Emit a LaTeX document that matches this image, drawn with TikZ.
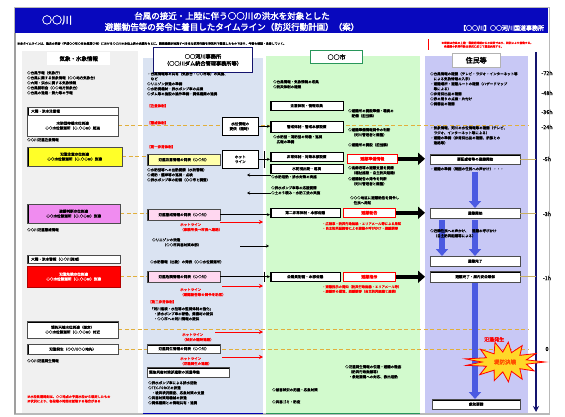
\documentclass[tikz,border=0pt]{standalone}
\usepackage{fontspec}
\newfontfamily\jpf{Noto Sans CJK JP}[FakeBold=1]
\newfontfamily\jpb{Noto Sans CJK JP}[FakeBold=2.5]
\usetikzlibrary{arrows.meta,calc}
\newcommand{\myfs}[2]{\jpf\fontsize{#1pt}{#2pt}\selectfont}
\newcommand{\mybf}[2]{\jpb\fontsize{#1pt}{#2pt}\selectfont}
\definecolor{titleblue}{RGB}{8,8,190}
\definecolor{cAbg}{RGB}{240,240,240}
\definecolor{cBbg}{RGB}{218,227,242}
\definecolor{cCbg}{RGB}{210,250,205}
\definecolor{cDbg}{RGB}{200,200,245}
\definecolor{navyc}{RGB}{20,20,110}
\definecolor{dashc}{RGB}{225,175,60}
\definecolor{arrblue}{RGB}{75,90,225}
\definecolor{magbox}{RGB}{240,140,240}
\definecolor{pinkbox}{RGB}{255,215,240}
\definecolor{ylw}{RGB}{255,255,40}
\definecolor{ltylw}{RGB}{255,255,170}
\definecolor{grn}{RGB}{40,150,90}
\definecolor{tanc}{RGB}{200,175,100}
\definecolor{burstc}{RGB}{255,215,40}
\pgfdeclarelayer{back}\pgfdeclarelayer{mid}\pgfsetlayers{back,mid,main}
\tikzset{
 tx/.style={font=\myfs{3.5}{5}, anchor=north west, align=left, inner sep=0pt},
 tr/.style={tx, text=red},
 bx/.style={font=\myfs{3.6}{4.8}, anchor=north west, align=center, fill=white, draw=black!70, line width=0.35pt, inner xsep=2pt, inner ysep=0.5pt},
 lbar/.style={path picture={\fill[black] (path picture bounding box.north west) rectangle ([xshift=1.8pt]path picture bounding box.south west);}},
 tbar/.style={path picture={\fill[black] (path picture bounding box.north west) rectangle ([yshift=-1.4pt]path picture bounding box.north east);}},
 blk/.style={draw=black, line width=0.5pt, -{Stealth[length=3pt,width=3pt]}},
 redarr/.style={draw=red, line width=0.8pt, -{Stealth[length=4pt,width=4pt]}},
 fat/.style={draw=black, line width=4.5pt, -{Triangle[length=7pt,width=12pt]}},
 bluearr/.style={draw=arrblue, line width=6pt, -{Triangle[length=7pt,width=12pt]}},
 dsh/.style={draw=dashc, line width=0.8pt, dash pattern=on 4pt off 2.5pt},
 tl/.style={font=\myfs{5.5}{6}, inner sep=0pt},
 redbx/.style={bx, draw=red, line width=0.6pt, text=red, font=\mybf{4}{5}},
}
\begin{document}
\begin{tikzpicture}[x=1pt,y=-1pt]
\useasboundingbox (0,0) rectangle (565,417);
\begin{pgfonlayer}{back}
\fill[white] (0,0) rectangle (565,417);
\draw[gray!55, line width=1.2pt] (14.5,7.5) rectangle (549.5,414);
\draw[gray!75, line width=1.8pt] (15,33) -- (15,414);
\fill[cAbg] (22,51) rectangle (138,413);
\fill[cBbg] (143,58) rectangle (263,413);
\fill[cCbg] (266,56) rectangle (420,413);
\fill[cDbg] (425,56) rectangle (528,413);
\draw[blue!70!black, line width=1pt] (143,413) -- (263,413);
\draw[grn, line width=1pt] (266,413) -- (420,413);
\end{pgfonlayer}

% title
\node[fill=titleblue, minimum width=533pt, minimum height=25pt, anchor=north west, inner sep=0pt] (titlebar) at (15,8) {};
\node[text=white, font=\mybf{10}{11}] (river) at (57,20) {○○川};
\node[text=white, font=\mybf{8.5}{11}, align=center] (title) at (232,21.5) {台風の接近・上陸に伴う○○川の洪水を対象とした\\避難勧告等の発令に着目したタイムライン（防災行動計画）（案）};
\node[text=white, font=\mybf{6}{7}] (office) at (502,28) {【○○川】○○河川国道事務所};
\node[tx, font=\myfs{2.9}{3.5}] (note) at (17,42) {※本タイムラインは、過去の災害（平成○○年○月台風第○号）における○○川の水位上昇の実績をもとに、関係機関が実施すべき主な防災行動を時系列で整理したものであり、今後も検証・改善していく。};
\node[tx, fill=white, text=red, font=\myfs{2.7}{3.6}, minimum width=118pt, minimum height=11pt, inner xsep=3pt, path picture={\fill[red] (path picture bounding box.north west) rectangle ([xshift=1pt]path picture bounding box.south west);}] (rnote) at (428,39) {※時間は台風の上陸・最接近時刻からの目安であり、状況により前後する。\\　各機関の防災行動は状況に応じて適宜実施する。};

% headers
\node[fill=white, minimum width=63pt, minimum height=13pt, anchor=north west, inner sep=0pt, font=\mybf{5.5}{6}] (hA) at (47,52) {気象・水象情報};
\node[fill=white, draw=navyc, line width=1pt, minimum width=99pt, minimum height=25pt, anchor=north west, inner sep=0pt, align=center, font=\mybf{5.2}{7}] (hB) at (153,47) {○○河川事務所\\（○○川ダム統合管理事務所等）};
\node[fill=white, draw=grn, line width=1.2pt, minimum width=52pt, minimum height=13pt, anchor=north west, inner sep=0pt, font=\mybf{6}{7}] (hC) at (310,50) {○○市};
\node[fill=white, draw=gray!60, line width=0.5pt, minimum width=48pt, minimum height=14pt, anchor=north west, inner sep=0pt, font=\mybf{7}{8}] (hD) at (452,53) {住民等};

% column 1
\node[tx] (a1) at (27,71) {○台風予報（気象庁）\\○台風に関する気象情報（○○地方気象台）\\○大雨・洪水に関する気象情報\\○台風説明会（○○地方気象台）\\○台風の進路・勢力等の予報};
\node[bx, lbar, text width=87pt, minimum height=8pt, align=left] (a2) at (27,107) {\hspace{2pt}大雨・洪水注意報};
\node[bx, text width=87pt, minimum height=21pt] (a3) at (27,115) {水防団待機水位到達\\○○水位観測所（○.○○m）超過};
\node[tx] (a4) at (27,138) {○○川氾濫注意情報};
\node[bx, lbar, fill=ylw, text width=91pt, minimum height=19pt] (a5) at (27,147) {氾濫注意水位到達\\○○水位観測所（○.○○m）到達};
\node[bx, lbar, fill=magbox, text width=89pt, minimum height=19pt] (a6) at (27,204) {避難判断水位到達\\○○水位観測所（○.○○m）到達};
\node[tx] (a7) at (27,228) {○○川氾濫警戒情報};
\node[bx, lbar, text width=89pt, minimum height=8pt, align=left] (a8) at (27,255) {\hspace{2pt}大雨・洪水警報（○○川流域）};
\node[bx, fill=red, text=white, draw=red!70!black, text width=89pt, minimum height=21pt] (a9) at (27,266) {氾濫危険水位到達\\○○水位観測所（○.○○m）到達};
\node[bx, tbar, text width=87pt, minimum height=17pt] (a10) at (27,321) {堤防天端水位到達（想定）\\○○水位観測所（○.○○m）付近};
\node[bx, lbar, text width=87pt, minimum height=10pt] (a11) at (27,344) {氾濫発生（○○川○○地先）};
\node[tx] (a12) at (27,359) {○○川氾濫発生情報};
\node[tr, font=\myfs{3.2}{4.5}] (a13) at (27,395) {※水位到達時刻は、○○地点の予測水位から想定したもの\\※状況により、各段階の時間は前後する場合がある};

% column 2
\node[tx] (b1) at (147,72) {・台風情報等の共有（気象台・○○市等）の実施、\\　など\\○リエゾン派遣の準備\\○水防資機材・排水ポンプ車の点検\\○ダム等の施設の操作準備・関係機関の連携};
\node[tr] (b2) at (147,104) {【注意体制】};
\node[tr] (b3) at (147,121) {【警戒体制】};
\node[bx, draw=black, line width=0.6pt, text width=32pt, minimum height=18pt] (b4) at (222,117) {水位情報の\\提供（随時）};
\node[tr] (b5) at (147,145) {【第一非常体制】};
\node[bx, lbar, fill=ltylw, text width=69pt, minimum height=11pt] (b6) at (147,154) {氾濫注意情報の発表（○○川）};
\node[bx, draw=black, line width=0.6pt, text width=32pt, minimum height=18pt] (b7) at (222,150) {ホット\\ライン};
\node[tx] (b8) at (147,168) {○水防団等への出動要請（水防警報）\\○堤防・護岸等の巡視・点検\\○排水ポンプ車の配備（○○市と調整）};
\node[bx, lbar, fill=pinkbox, text width=69pt, minimum height=11pt] (b9) at (147,209) {氾濫警戒情報の発表（○○川）};
\node[tr] (b10) at (180,223) {ホットライン\\（事務所長→市長へ連絡）};
\node[tx] (b11) at (152,238) {○リエゾンの派遣\\　　　（○○市災害対策本部）};
\node[tx] (b12) at (150,260) {○水防警報（出動）の発表（○○水位観測所）};
\node[bx, lbar, fill=pinkbox, text width=69pt, minimum height=11pt] (b13) at (147,271) {氾濫危険情報の発表（○○川）};
\node[tr] (b14) at (180,288) {ホットライン\\（避難勧告等の発令を助言）};
\node[tr] (b15) at (148,300) {【第二非常体制】};
\node[tx] (b16) at (150,307) {「河川巡視・水位等の監視体制の強化」\\　・排水ポンプ車の稼働、資機材の提供\\　・○○市への河川情報の提供};
\node[tr] (b17) at (182,333) {ホットライン\\（状況の随時連絡）};
\node[bx, tbar, text width=69pt, minimum height=9pt] (b18) at (147,344) {氾濫発生情報の発表（○○川）};
\node[tr] (b19) at (180,357) {ホットライン\\（氾濫発生の連絡）};
\node[bx, tbar, text width=78pt, minimum height=10pt, align=left] (b20) at (147,367) {緊急災害対策派遣隊の派遣準備};
\node[tx] (b21) at (148,381) {○排水ポンプ車による排水活動\\○TEC-FORCEの派遣\\　・被災状況調査、応急対策の支援\\○災害対策用機械の派遣\\○関係機関との情報共有・連携};

% column 3
\node[tx] (c1) at (273,80) {○台風情報・気象情報の収集\\○防災体制の確認};
\node[bx, lbar, draw=black, text width=69pt, minimum height=9pt] (c2) at (270,101) {注意体制・情報収集};
\node[tx] (c3) at (348,109) {○避難所の開設準備・職員の\\　配備（担当課）};
\node[bx, lbar, draw=black, text width=69pt, minimum height=11pt] (c4) at (270,121) {警戒体制・警戒本部設置};
\node[tx] (c5) at (273,135) {○水防団・消防団の待機・巡視\\　広報の準備};
\node[tx] (c6) at (348,128) {○避難準備情報発令の判断\\　（河川管理者と調整）};
\node[tx] (c7) at (348,143) {○避難所の開設（担当課）};
\node[redbx, text width=46pt, minimum height=9pt] (c8) at (347,154) {避難準備情報};
\node[bx, lbar, draw=black, text width=69pt, minimum height=9pt] (c9) at (270,152) {非常体制・対策本部設置};
\node[bx, lbar, draw=black, text width=69pt, minimum height=9pt] (c10) at (270,164) {水防団出動・巡視};
\node[tx] (c11) at (348,166) {○高齢者等の避難支援を要請\\　（福祉施設・自主防災組織）};
\node[tx] (c12) at (271,175) {○水防活動・排水対策の実施};
\node[tx] (c13) at (348,177) {○避難勧告の発令を判断\\　（河川管理者と調整）};
\node[tx] (c14) at (271,186) {○排水ポンプ車等の応援要請\\○土のう積み・水防工法の実施};
\node[tx] (c15) at (350,196) {○○○地区に避難勧告を発令し\\　住民へ周知};
\node[bx, lbar, draw=black, text width=66pt, minimum height=9pt] (c16) at (270,208) {第二非常体制・本部会議};
\node[redbx, text width=48pt, minimum height=9pt] (c17) at (343,208) {避難勧告};
\node[tr, font=\myfs{3.3}{4.6}] (c18) at (322,222) {・広報車・防災行政無線・エリアメール等による周知\\・自主防災組織等による避難の呼びかけ・避難誘導};
\node[bx, lbar, draw=black, text width=66pt, minimum height=9pt] (c19) at (270,272) {全職員配備・本部会議};
\node[redbx, text width=48pt, minimum height=9pt] (c20) at (343,272) {避難指示};
\node[tr, font=\myfs{3.3}{4.6}] (c21) at (322,285) {・避難指示の周知（防災行政無線・エリアメール等）\\・避難所の運営、避難誘導（自主防災組織と連携）};
\node[tx] (c22) at (345,365) {○氾濫発生情報の伝達・避難の徹底\\　（防災行政無線等）\\　・救助要請への対応、救出活動};
\node[tx] (c23) at (272,388) {○被害状況の把握・応急対策};
\node[tx] (c24) at (272,400) {○災害ゴミ・防疫};

% column 4
\node[tx] (d1) at (430,72) {○台風情報の確認（テレビ・ラジオ・インターネット等\\　による気象情報の入手）\\・避難場所・避難ルートの確認（ハザードマップ\\　等による）\\○非常持出品の確認\\○家の周りの点検・片付け\\○備蓄品の確認};
\node[tx] (d2) at (430,126) {・気象情報、河川の水位情報等の確認（テレビ、\\　ラジオ、インターネット等による）\\・避難の準備（非常持出品の確認、家族との\\　連絡等）};
\node[bx, tbar, text width=86pt, minimum height=10pt] (d3) at (430,154) {要配慮者等の避難開始};
\node[tx] (d4) at (430,167) {・避難の準備（周囲の住民への声かけ）・・・};
\node[bx, text width=86pt, minimum height=10pt] (d5) at (430,208) {避難開始};
\node[bx, text width=86pt, minimum height=10pt] (d7) at (430,256) {避難完了};
\node[bx, tbar, text width=86pt, minimum height=11pt] (d8) at (430,271) {避難完了・屋内安全確保};
\node[bx, tbar, text width=84pt, minimum height=10pt] (d9) at (432,399) {救助要請};

% dashed level lines
\coordinate (dE) at (528,0);
\begin{pgfonlayer}{mid}
\draw[dsh] (a3.east) -- (a3.east -| dE);
\draw[dsh] (a5.east) -- (a5.east -| b6.west);
\draw[dsh] (a6.east) -- (a6.east -| b9.west);
\draw[dsh] (a9.east) -- (a9.east -| b13.west);
\draw[dsh] (a10.east) -- (a10.east -| dE);
\draw[dsh] (a11.east) -- (a11.east -| dE);
\end{pgfonlayer}

% time axis
\coordinate (axT) at (536,52);
\coordinate (axB) at (536,412);
\draw[navyc, line width=2pt, -{Stealth[length=6pt,width=6pt]}] (axT) -- (axB);
\node[tl] (t1) at (547,73) {-72h};
\node[tl] (t2) at (547,93) {-48h};
\node[tl] (t3) at (547,112) {-36h};
\node[tl] (t4) at (547,127) {-24h};
\node[tl] (t5) at (547,159) {-5h};
\node[tl] (t6) at (547,214) {-3h};
\node[tl] (t7) at (547,278) {-1h};
\node[tl] (t8) at (547,349) {0};
\draw[tanc, line width=1pt] (d3.east) -- (d3.east -| axT);
\draw[tanc, line width=1pt] (d5.east) -- (d5.east -| axT);
\draw[tanc, line width=1pt] (d8.east) -- (d8.east -| axT);

% connectors col2 -> col3
\draw[blk] (b4.east) -- (b4.east -| c4.west);
\coordinate (barX) at (264,0);
\draw[line width=0.6pt] (b7.east) -- (b7.east -| barX);
\draw[line width=0.8pt] ($(b7.east -| barX)+(0,-8)$) -- ($(b7.east -| barX)+(0,9)$);
\draw[blk] (b7.east -| barX) -- (b7.east -| c9.west);
\coordinate (lA) at (247,175);
\coordinate (lB) at (247,193);
\draw[blk] (lA -| c12.west) -- (lA);
\draw[blk] (lB -| c14.west) -- (lB);
\draw[blk] (b9.east) -- (b9.east -| c16.west);
\coordinate (r1s) at (220,222); \coordinate (r1e) at (263,222);
\draw[redarr] (r1s) -- (r1e);
\coordinate (k1s) at (240,246); \coordinate (k1e) at (269,246);
\draw[blk] (k1s) -- (k1e);
\draw[line width=0.6pt] (b13.east) -- (b13.east -| barX);
\draw[line width=0.8pt] ($(b13.east -| barX)+(0,-5)$) -- ($(b13.east -| barX)+(0,5)$);
\draw[blk] (b13.east -| barX) -- (b13.east -| c19.west);
\coordinate (r2s) at (222,286); \coordinate (r2e) at (263,286);
\draw[redarr] (r2s) -- (r2e);
\coordinate (r3s) at (215,332); \coordinate (r3e) at (263,332);
\draw[redarr] (r3s) -- (r3e);
\coordinate (r4s) at (222,357); \coordinate (r4e) at (263,357);
\draw[redarr] (r4s) -- (r4e);

% fat arrows col3 -> col4
\draw[fat, shorten >=5pt] (c8.east) -- (c8.east -| d3.west);
\draw[fat, shorten >=5pt] (c17.east) -- (c17.east -| d5.west);
\draw[fat, shorten >=5pt] (c20.east) -- (c20.east -| d8.west);

% blue arrows in col4
\coordinate (u1) at (475,172);
\coordinate (u2) at (442,220);
\coordinate (u3) at (475,220);
\coordinate (u4) at (475,283);
\draw[bluearr] (u1) -- (u1 |- d5.north);
\draw[bluearr] (u2) -- (u2 |- d7.north);
\draw[bluearr] (u3) -- (u3 |- d7.north);
\draw[bluearr] (u4) -- (u4 |- d9.north);
\node[tx] (d6) at (430,229) {○近隣住民への声かけ、　避難の呼びかけ\\　（自主防災組織等による）};

% flood burst
\coordinate (sbc) at (505,362);
\filldraw[fill=burstc, draw=red, line width=0.8pt, line join=miter]
 ($(sbc)+(0:40 and 14)$) -- ($(sbc)+(14:22 and 9)$) -- ($(sbc)+(28:33 and 19)$) -- ($(sbc)+(42:20 and 10)$)
 -- ($(sbc)+(55:30 and 21)$) -- ($(sbc)+(69:18 and 10)$) -- ($(sbc)+(83:28 and 20)$) -- ($(sbc)+(97:18 and 10)$)
 -- ($(sbc)+(111:30 and 20)$) -- ($(sbc)+(125:19 and 10)$) -- ($(sbc)+(138:34 and 19)$) -- ($(sbc)+(152:21 and 9)$)
 -- ($(sbc)+(166:40 and 14)$) -- ($(sbc)+(180:23 and 8)$) -- ($(sbc)+(194:41 and 13)$) -- ($(sbc)+(208:21 and 9)$)
 -- ($(sbc)+(222:33 and 19)$) -- ($(sbc)+(235:19 and 10)$) -- ($(sbc)+(249:28 and 21)$) -- ($(sbc)+(263:18 and 10)$)
 -- ($(sbc)+(277:27 and 20)$) -- ($(sbc)+(291:18 and 10)$) -- ($(sbc)+(305:30 and 20)$) -- ($(sbc)+(318:20 and 10)$)
 -- ($(sbc)+(332:35 and 18)$) -- ($(sbc)+(346:22 and 9)$) -- cycle;
\node[text=orange!60!red, font=\mybf{5.5}{6}, inner sep=0pt] (d11) at (sbc) {堤防決壊};
\node[tr, font=\mybf{5}{6}] (d10) at (484,337) {氾濫発生};
\end{tikzpicture}
\end{document}
